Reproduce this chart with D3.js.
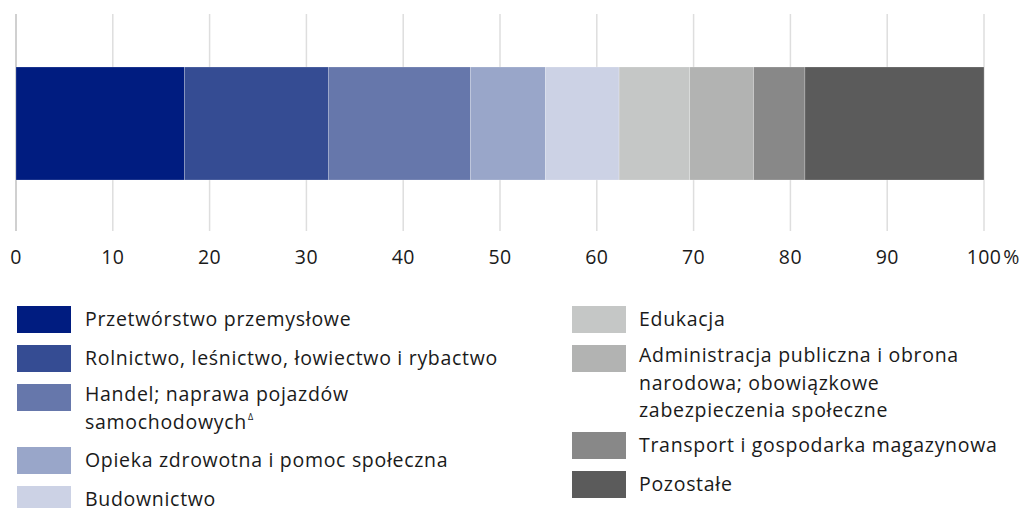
<!DOCTYPE html>
<html>
  <head>
    <meta charset="utf-8">
    <style>
      body {
        margin: 0;
        background: #fff;
        font-family: "Open Sans", "Noto Sans", sans-serif;
      }
      .grid line {
        stroke: #dedede;
        stroke-width: 1.5;
      }
      .tick-label, .legend text {
        fill: #1a1a1a;
      }
    </style>
  </head>
  <body>
    <script src="https://d3js.org/d3.v7.min.js"></script>
    <script>
      // data (shares in %)
      var categories = [
        "Przetwórstwo przemysłowe",
        "Rolnictwo, leśnictwo, łowiectwo i rybactwo",
        "Handel; naprawa pojazdów\nsamochodowych",
        "Opieka zdrowotna i pomoc społeczna",
        "Budownictwo",
        "Edukacja",
        "Administracja publiczna i obrona\nnarodowa; obowiązkowe\nzabezpieczenia społeczne",
        "Transport i gospodarka magazynowa",
        "Pozostałe"
      ];
      var values = [17.4, 14.9, 14.65, 7.75, 7.6, 7.3, 6.6, 5.3, 18.5];
      var colors = ["#001c80", "#354c93", "#6677ab", "#99a6c9", "#ccd2e5",
                    "#c5c7c6", "#b2b3b2", "#888888", "#5b5b5b"];
      var superscripts = ["", "", "\u0394", "", "", "", "", "", ""];
      var ticks = [0, 10, 20, 30, 40, 50, 60, 70, 80, 90, 100];

      var width = 1025, height = 508;

      var svg = d3.select("body").append("svg")
          .attr("width", width)
          .attr("height", height);

      var x = d3.scaleLinear().domain([0, 100]).range([16, 984]);

      // gridlines
      svg.append("g").attr("class", "grid")
        .selectAll("line")
        .data(ticks)
        .enter().append("line")
          .attr("x1", function(d) { return x(d); })
          .attr("x2", function(d) { return x(d); })
          .attr("y1", 14)
          .attr("y2", 231)
          .style("stroke", function(d) { return d === 0 ? "#d0d0d0" : null; })
          .style("stroke-width", function(d) { return d === 0 ? 2 : null; });

      // stacked segments
      var stack = [];
      var acc = 0;
      values.forEach(function(v, i) {
        stack.push({ i: i, x0: acc, x1: acc + v });
        acc += v;
      });

      svg.append("g").selectAll("rect")
        .data(stack)
        .enter().append("rect")
          .attr("x", function(d) { return x(d.x0); })
          .attr("width", function(d) { return x(d.x1) - x(d.x0); })
          .attr("y", 67)
          .attr("height", 113)
          .attr("fill", function(d) { return colors[d.i]; })
          .attr("stroke", "rgba(255,255,255,0.35)")
          .attr("stroke-width", 0.6);

      // tick labels
      var tl = svg.append("g").selectAll("text")
        .data(ticks)
        .enter().append("text")
          .attr("class", "tick-label")
          .attr("x", function(d) { return x(d); })
          .attr("y", 264)
          .attr("text-anchor", "middle")
          .style("font-size", "19.5px")
          .style("letter-spacing", "0.4px")
          .text(function(d) { return d; });

      var last = tl.filter(function(d) { return d === 100; });
      var w100 = last.node().getComputedTextLength();
      svg.append("text")
          .attr("class", "tick-label")
          .attr("x", x(100) + w100 / 2 + 2)
          .attr("y", 264)
          .style("font-size", "19.5px")
          .text("%");

      // legend: two columns
      var cols = [
        { start: 0, end: 5, sx: 17, tx: 85 },
        { start: 5, end: 9, sx: 572, tx: 639 }
      ];
      var legend = svg.append("g").attr("class", "legend");

      cols.forEach(function(c) {
        var top = 306;
        for (var i = c.start; i < c.end; i++) {
          var lines = categories[i].split("\n");
          var g = legend.append("g");
          g.append("rect")
            .attr("x", c.sx)
            .attr("y", top)
            .attr("width", 54)
            .attr("height", 27)
            .attr("fill", colors[i]);

          var t = g.append("text")
            .style("font-size", "19.5px")
            .style("letter-spacing", "0.7px");
          var base = lines.length > 1 ? top + 17 : top + 20;
          lines.forEach(function(line, k) {
            t.append("tspan")
              .attr("x", c.tx)
              .attr("y", base + k * 27.5)
              .text(line);
          });
          if (superscripts[i]) {
            t.append("tspan")
              .attr("dx", 1)
              .attr("dy", -9)
              .style("font-size", "9px")
              .style("letter-spacing", "0")
              .text(superscripts[i]);
          }
          top += 39 + 24 * (lines.length - 1);
        }
      });
    </script>
  </body>
</html>
